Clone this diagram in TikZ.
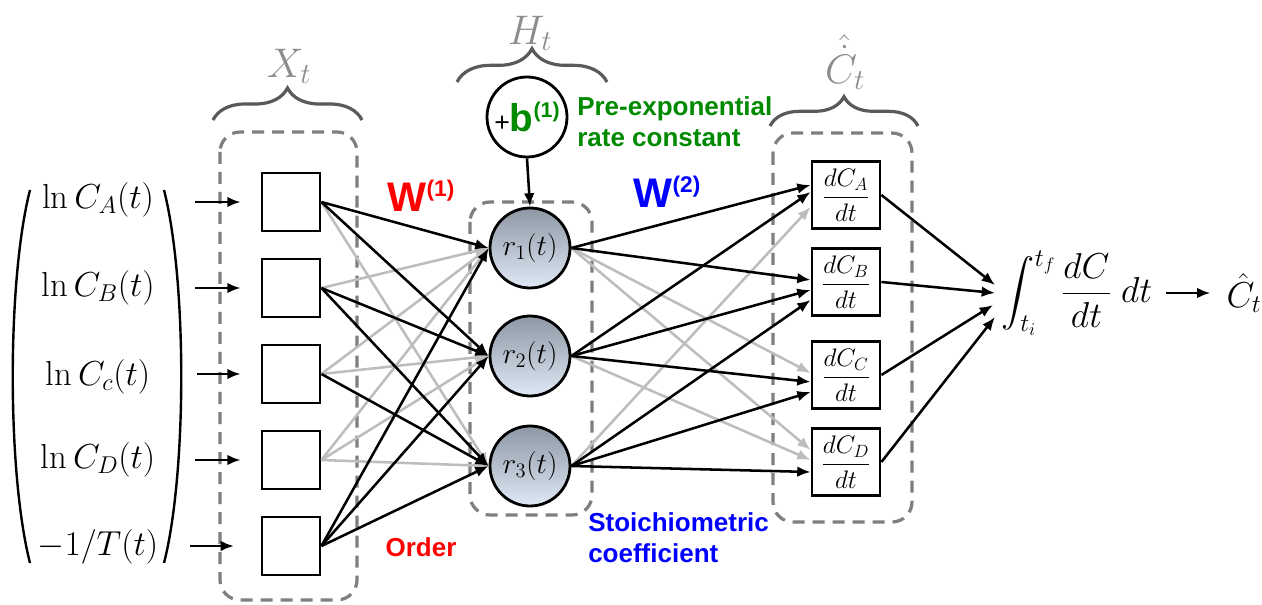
\documentclass[tikz,border=0pt]{standalone}
\usepackage{fix-cm}
\usepackage{amsmath}
\usepackage{fontspec}
\newfontfamily\lsans{Liberation Sans}
\usetikzlibrary{arrows.meta,calc,decorations.pathreplacing}
\definecolor{hidtop}{HTML}{8E98A4}
\definecolor{hidbot}{HTML}{DFE9F5}
\definecolor{dashgray}{HTML}{7F7F7F}
\definecolor{bracegray}{HTML}{5A5A5A}
\definecolor{labgray}{HTML}{8C8C8C}
\definecolor{wgray}{HTML}{BDBDBD}
\definecolor{redc}{HTML}{FF0000}
\definecolor{bluec}{HTML}{0000FF}
\definecolor{greenc}{HTML}{008A00}
\begin{document}
\begin{tikzpicture}[x=0.75pt,y=-0.75pt,
  >={Latex[length=10pt,width=8pt]},
  inbox/.style={draw,line width=2.1pt,fill=white,minimum size=43.5pt,inner sep=0pt},
  outbox/.style={draw,line width=2.1pt,fill=white,minimum width=51pt,minimum height=50pt,inner sep=0pt,font=\fontsize{19}{21}\selectfont},
  hid/.style={circle,draw,line width=2.1pt,minimum size=60pt,inner sep=0pt,top color=hidtop,bottom color=hidbot,font=\fontsize{22}{24}\selectfont},
  grp/.style={draw=dashgray,line width=2.4pt,dash pattern=on 9pt off 6pt,rounded corners=15pt},
  brc/.style={draw=bracegray,line width=2.4pt,decorate,decoration={brace,amplitude=#1}},
  blk/.style={->,line width=1.9pt,black},
  gry/.style={->,line width=1.9pt,wgray},
  inlab/.style={inner sep=0pt,font=\fontsize{26}{30}\selectfont},
  glab/.style={inner sep=0pt,text=labgray,font=\fontsize{31}{33}\selectfont},
  note/.style={inner sep=0pt,align=left,font=\lsans\bfseries\fontsize{19.5}{23}\selectfont}
]
\fill[white] (0,0) rectangle (1262,605);
\useasboundingbox (0,0) rectangle (1262,605);

% groups
\draw[grp] (220,132) rectangle (357,600);
\draw[grp] (470,202) rectangle (592,515);
\draw[grp] (773,133) rectangle (912,522);

% braces and labels
\draw[brc=24pt] (213,120) -- (362,120);
\draw[brc=25pt] (457,82) -- (607,82);
\draw[brc=22pt] (770,126) -- (918,126);
\node[glab] (xl) at (289,66) {$X_t$};
\node[glab] (hl) at (530,33) {$H_t$};
\node[glab] (cl) at (845,62) {$\hat{\dot{C}}_t$};

% input labels and parentheses
\node[inlab] (l1) at (98,200) {$\ln C_A(t)$};
\node[inlab] (l2) at (98,288) {$\ln C_B(t)$};
\node[inlab] (l3) at (98,377) {$\ln C_c(t)$};
\node[inlab] (l4) at (98,460) {$\ln C_D(t)$};
\node[inlab] (l5) at (98,547) {$-1/T(t)$};
\draw[line width=1.8pt] (30,190) .. controls (7,280) and (7,473) .. (30,563);
\draw[line width=1.8pt] (164,190) .. controls (187,280) and (187,473) .. (164,563);

% input boxes
\node[inbox] (i1) at (291,202) {};
\node[inbox] (i2) at (291,288) {};
\node[inbox] (i3) at (291,374) {};
\node[inbox] (i4) at (291,460) {};
\node[inbox] (i5) at (291,546) {};

\coordinate (a1) at (195,202);
\coordinate (a2) at (195,288);
\coordinate (a3) at (197,374);
\coordinate (a4) at (195,460);
\coordinate (a5) at (190,546);
\foreach \k in {1,2,3,4} {\draw[blk,shorten >=15pt] (a\k) -- (i\k.west);}
\draw[blk,shorten >=20pt] (a5) -- (i5.west);

% hidden nodes
\node[hid] (r1) at (530,248) {$r_1(t)$};
\node[hid] (r2) at (530,356) {$r_2(t)$};
\node[hid] (r3) at (530,466) {$r_3(t)$};

% bias
\node[circle,draw,line width=2.1pt,fill=white,minimum size=60pt,inner sep=0pt] (bias) at (527,117)
  {\lsans\fontsize{20}{20}\selectfont+\textcolor{greenc}{\bfseries\fontsize{29}{29}\selectfont b\raisebox{11pt}{\fontsize{16}{16}\selectfont(1)}}};
\draw[blk] (bias.south) -- (r1.north);

% output boxes
\node[outbox] (oA) at (846,195) {$\displaystyle\frac{dC_A}{dt}$};
\node[outbox] (oB) at (846,282) {$\displaystyle\frac{dC_B}{dt}$};
\node[outbox] (oC) at (846,375) {$\displaystyle\frac{dC_C}{dt}$};
\node[outbox] (oD) at (846,462) {$\displaystyle\frac{dC_D}{dt}$};

% input -> hidden (gray first)
\foreach \i/\r in {1/3,2/1,3/1,3/2,4/1,4/2,4/3} {\draw[gry] (i\i.east) -- (r\r.west);}
\foreach \i/\r in {1/1,1/2,2/2,2/3,3/3,5/1,5/2,5/3} {\draw[blk] (i\i.east) -- (r\r.west);}

% hidden -> output
\draw[gry] (r1.east) -- ($(oC.west)+(0,-2)$);
\draw[gry] (r1.east) -- ($(oD.west)+(0,-12)$);
\draw[gry] (r2.east) -- ($(oD.west)+(0,-2)$);
\draw[gry] (r3.east) -- ($(oA.west)+(0,12)$);
\draw[blk] (r1.east) -- ($(oA.west)+(0,-10)$);
\draw[blk] (r1.east) -- ($(oB.west)+(0,-2)$);
\draw[blk] (r2.east) -- ($(oA.west)+(0,-3)$);
\draw[blk] (r2.east) -- ($(oB.west)+(0,8)$);
\draw[blk] (r2.east) -- ($(oC.west)+(0,7)$);
\draw[blk] (r3.east) -- ($(oB.west)+(0,18)$);
\draw[blk] (r3.east) -- ($(oC.west)+(0,17)$);
\draw[blk] (r3.east) -- ($(oD.west)+(0,10)$);

% integral and result
\node[inner sep=0pt,font=\fontsize{27}{30}\selectfont] (integ) at (1077,293) {$\displaystyle\int_{t_i}^{t_f}\frac{dC}{dt}\;dt$};
\node[inner sep=0pt,font=\fontsize{27}{30}\selectfont] (chat) at (1244,293) {$\hat{C}_t$};
\coordinate (e1) at (995,285);
\coordinate (e2) at (995,293);
\coordinate (e3) at (993,305);
\coordinate (e4) at (995,317);
\draw[blk] (oA.east) -- (e1);
\draw[blk] (oB.east) -- (e2);
\draw[blk] (oC.east) -- (e3);
\draw[blk] (oD.east) -- (e4);
\draw[blk,shorten <=10pt,shorten >=12pt] (integ.east) -- (chat.west);

% weight labels and notes
\node[inner sep=0pt,text=redc,font=\lsans\bfseries] (w1) at (421,196)
  {\fontsize{31}{31}\selectfont W\raisebox{11pt}{\fontsize{17}{17}\selectfont(1)}};
\node[inner sep=0pt,text=bluec,font=\lsans\bfseries] (w2) at (667,192)
  {\fontsize{31}{31}\selectfont W\raisebox{11pt}{\fontsize{17}{17}\selectfont(2)}};
\node[note,text=redc] (ord) at (421,547) {Order};
\node[note,text=bluec,anchor=west] (sto) at (588,538) {Stoichiometric\\coefficient};
\node[note,text=greenc,anchor=west] (pre) at (577,122) {Pre-exponential\\rate constant};
\end{tikzpicture}
\end{document}
